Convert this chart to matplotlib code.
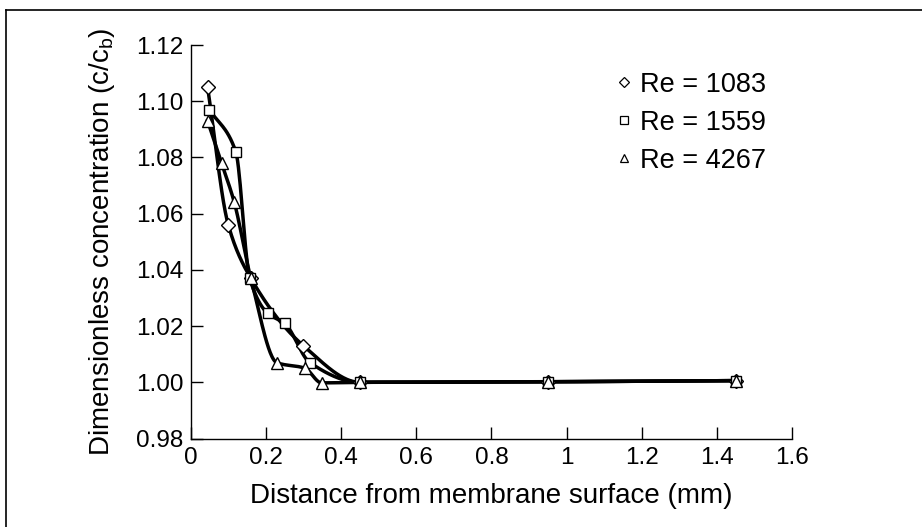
import numpy as np
import matplotlib
matplotlib.use("Agg")
import matplotlib.pyplot as plt
from matplotlib.lines import Line2D

plt.rcParams['font.family'] = ['Liberation Sans', 'DejaVu Sans']
plt.rcParams['mathtext.default'] = 'regular'

# Data: distance (mm) vs c/cb
x_1083 = [0.045, 0.10, 0.16, 0.30, 0.45, 0.95, 1.45]
y_1083 = [1.105, 1.056, 1.037, 1.013, 1.000, 1.0002, 1.0006]

x_1559 = [0.05, 0.12, 0.157, 0.205, 0.25, 0.317, 0.45, 0.95, 1.45]
y_1559 = [1.097, 1.082, 1.037, 1.0245, 1.021, 1.007, 1.000, 1.0002, 1.0006]

x_4267 = [0.045, 0.082, 0.116, 0.16, 0.229, 0.304, 0.348, 0.45, 0.95, 1.45]
y_4267 = [1.093, 1.078, 1.064, 1.037, 1.007, 1.005, 0.9998, 1.000, 1.0002, 1.0006]

labels = ['Re = 1083', 'Re = 1559', 'Re = 4267']
markers = ['D', 's', '^']

xticks = [0, 0.2, 0.4, 0.6, 0.8, 1, 1.2, 1.4, 1.6]
xtick_labels = ['0', '0.2', '0.4', '0.6', '0.8', '1', '1.2', '1.4', '1.6']
yticks = [0.98, 1.00, 1.02, 1.04, 1.06, 1.08, 1.10, 1.12]


def pchip(x, y, xs):
    # monotone cubic (Fritsch-Carlson) used only to draw the smooth line
    x = np.asarray(x, float)
    y = np.asarray(y, float)
    h = np.diff(x)
    d = np.diff(y) / h
    m = np.zeros_like(y)
    m[0], m[-1] = d[0], d[-1]
    for i in range(1, len(x) - 1):
        if d[i - 1] * d[i] > 0:
            w1 = 2 * h[i] + h[i - 1]
            w2 = h[i] + 2 * h[i - 1]
            m[i] = (w1 + w2) / (w1 / d[i - 1] + w2 / d[i])
    idx = np.clip(np.searchsorted(x, xs) - 1, 0, len(x) - 2)
    t = (xs - x[idx]) / h[idx]
    h00 = 2 * t**3 - 3 * t**2 + 1
    h10 = t**3 - 2 * t**2 + t
    h01 = -2 * t**3 + 3 * t**2
    h11 = t**3 - t**2
    return (h00 * y[idx] + h10 * h[idx] * m[idx]
            + h01 * y[idx + 1] + h11 * h[idx] * m[idx + 1])


fig = plt.figure(figsize=(9.22, 5.27), dpi=100)
ax = fig.add_axes([0.2068, 0.1679, 0.6525, 0.7467])

series = [(x_1083, y_1083), (x_1559, y_1559), (x_4267, y_4267)]
for (xs, ys), mk, lab in zip(series, markers, labels):
    xf = np.linspace(xs[0], xs[-1], 600)
    ax.plot(xf, pchip(xs, ys, xf), color='black', lw=2.5, zorder=2)

handles = []
msizes = [7, 7.5, 8.5]
for (xs, ys), mk, lab, ms in zip(series, markers, labels, msizes):
    ax.plot(xs, ys, linestyle='none', marker=mk, ms=ms, mfc='white',
            mec='black', mew=1.0, zorder=3)
    handles.append(Line2D([], [], linestyle='none', marker=mk, ms=ms * 0.7,
                          mfc='white', mec='black', mew=0.9, label=lab))

ax.set_xlim(0, 1.6)
ax.set_ylim(0.98, 1.12)
ax.set_xticks(xticks)
ax.set_xticklabels(xtick_labels)
ax.set_yticks(yticks)
ax.set_yticklabels([f'{v:.2f}' for v in yticks])

for s in ['top', 'right']:
    ax.spines[s].set_visible(False)
for s in ['left', 'bottom']:
    ax.spines[s].set_linewidth(1.0)

ax.tick_params(axis='both', direction='in', length=8.5, width=1.0,
               labelsize=17.5)
ax.tick_params(axis='x', pad=6)
ax.tick_params(axis='y', pad=5)

ax.set_xlabel('Distance from membrane surface (mm)', fontsize=20, labelpad=10)
ax.set_ylabel('Dimensionless concentration (c/c$_b$)', fontsize=20,
              labelpad=14)

ax.legend(handles=handles, loc='upper left', bbox_to_anchor=(0.688, 0.96),
          frameon=False, fontsize=19.5, handlelength=0.6, handletextpad=0.3,
          labelspacing=0.45, borderaxespad=0)

# border of the scanned figure (left and top edges)
fig.add_artist(Line2D([6 / 922, 6 / 922], [0, 1 - 10 / 527],
                      transform=fig.transFigure, color='black', lw=1.2))
fig.add_artist(Line2D([6 / 922, 1], [1 - 10 / 527, 1 - 10 / 527],
                      transform=fig.transFigure, color='black', lw=1.2))

fig.savefig('out.png', dpi=100)
